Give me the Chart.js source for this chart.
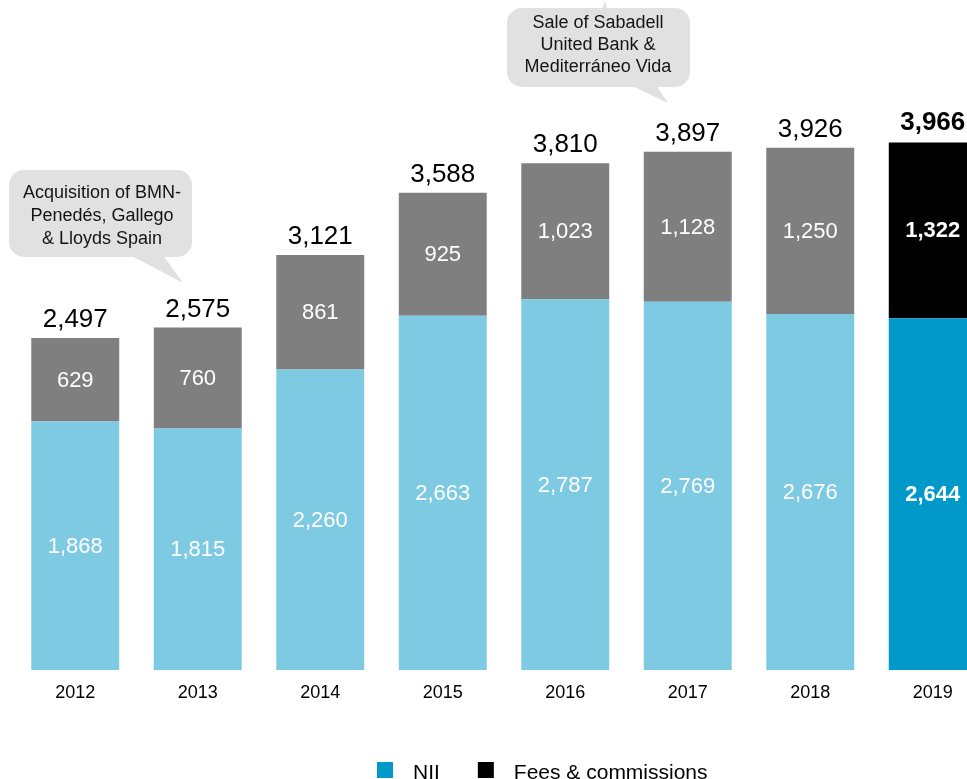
<!DOCTYPE html>
<html>
<head>
<meta charset="utf-8">
<script src="https://cdn.jsdelivr.net/npm/chart.js@4.4.1/dist/chart.umd.min.js"></script>
<style>
  html, body { margin: 0; padding: 0; background: #fff; overflow: hidden; }
  #wrap { width: 1000px; height: 779px; }
</style>
</head>
<body>
<div id="wrap"><canvas id="c" width="1000" height="779"></canvas></div>
<script>
// Revenue breakdown, EUR m
const years = ['2012', '2013', '2014', '2015', '2016', '2017', '2018', '2019'];
const nii = [1868, 1815, 2260, 2663, 2787, 2769, 2676, 2644];
const fees = [629, 760, 861, 925, 1023, 1128, 1250, 1322];
const seriesNames = ['NII', 'Fees & commissions'];
const highlightYear = '2019';
const noteAcquisition = ['Acquisition of BMN-', 'Penedés, Gallego', '& Lloyds Spain'];
const noteSale = ['Sale of Sabadell', 'United Bank &', 'Mediterráneo Vida'];

const FONT = '"Liberation Sans", Arial, Helvetica, sans-serif';
const niiColor = '#7fcae3', niiHighlight = '#0099c9';
const feeColor = '#7f7f7f', feeHighlight = '#000000';
const isHi = i => years[i] === highlightYear;
const fmt = v => v.toLocaleString('en-US');

// Values inside each segment plus stacked totals above the bars
const valueLabels = {
  id: 'valueLabels',
  afterDatasetsDraw(chart) {
    const ctx = chart.ctx;
    ctx.save();
    ctx.textAlign = 'center';
    chart.data.datasets.forEach((ds, di) => {
      const meta = chart.getDatasetMeta(di);
      meta.data.forEach((bar, i) => {
        const p = bar.getProps(['x', 'y', 'base'], true);
        ctx.fillStyle = '#ffffff';
        ctx.font = (isHi(i) ? 'bold ' : '') + '22px ' + FONT;
        ctx.textBaseline = 'middle';
        ctx.fillText(fmt(ds.data[i]), p.x, (p.y + p.base) / 2 + 1);
      });
    });
    const top = chart.getDatasetMeta(chart.data.datasets.length - 1);
    top.data.forEach((bar, i) => {
      const total = chart.data.datasets.reduce((s, ds) => s + ds.data[i], 0);
      ctx.fillStyle = '#000000';
      ctx.font = (isHi(i) ? 'bold ' : '') + '26px ' + FONT;
      ctx.textBaseline = 'alphabetic';
      ctx.fillText(fmt(total), bar.x, bar.y - (isHi(i) ? 13 : 11));
    });
    ctx.restore();
  }
};

// Speech-bubble notes
function bubble(ctx, b) {
  ctx.beginPath();
  ctx.roundRect(b.x0, b.y0, b.x1 - b.x0, b.y1 - b.y0, b.r);
  ctx.fill();
  ctx.beginPath();
  ctx.moveTo(b.tail[0][0], b.tail[0][1]);
  b.tail.slice(1).forEach(pt => ctx.lineTo(pt[0], pt[1]));
  ctx.closePath();
  ctx.fill();
  if (b.nub) {
    ctx.beginPath();
    ctx.moveTo(b.nub[0][0], b.nub[0][1]);
    b.nub.slice(1).forEach(pt => ctx.lineTo(pt[0], pt[1]));
    ctx.closePath();
    ctx.fill();
  }
}
const notes = {
  id: 'notes',
  afterDraw(chart, args, opts) {
    const ctx = chart.ctx;
    ctx.save();
    opts.items.forEach(n => {
      ctx.fillStyle = '#e1e1e1';
      bubble(ctx, n);
      ctx.fillStyle = '#141414';
      ctx.font = '18px ' + FONT;
      ctx.textAlign = 'center';
      ctx.textBaseline = 'alphabetic';
      n.lines.forEach((t, k) => ctx.fillText(t, n.tx, n.ty + k * n.lh));
    });
    ctx.restore();
  }
};

// Legend row along the bottom edge
const bottomLegend = {
  id: 'bottomLegend',
  afterDraw(chart, args, opts) {
    const ctx = chart.ctx;
    ctx.save();
    ctx.font = '21px ' + FONT;
    ctx.textBaseline = 'alphabetic';
    ctx.textAlign = 'left';
    let x = opts.x;
    chart.data.datasets.forEach(ds => {
      ctx.fillStyle = ds.legendColor;
      ctx.fillRect(x, opts.y, 16, 16);
      x += 16 + 20;
      ctx.fillStyle = '#000000';
      ctx.fillText(ds.label, x, opts.y + 17);
      x += ctx.measureText(ds.label).width + 38;
    });
    ctx.restore();
  }
};

new Chart(document.getElementById('c'), {
  type: 'bar',
  data: {
    labels: years,
    datasets: [
      {
        label: seriesNames[0],
        data: nii,
        backgroundColor: years.map((y, i) => isHi(i) ? niiHighlight : niiColor),
        legendColor: niiHighlight
      },
      {
        label: seriesNames[1],
        data: fees,
        backgroundColor: years.map((y, i) => isHi(i) ? feeHighlight : feeColor),
        legendColor: feeHighlight
      }
    ]
  },
  options: {
    responsive: false,
    animation: false,
    devicePixelRatio: 1,
    layout: { padding: { left: 14, right: 6, top: 5, bottom: 63.4 } },
    datasets: { bar: { categoryPercentage: 1, barPercentage: 0.718, borderWidth: 0 } },
    scales: {
      x: {
        stacked: true,
        grid: { display: false, drawTicks: false },
        border: { display: false },
        ticks: { color: '#000000', font: { family: FONT, size: 18 }, padding: 12 }
      },
      y: { stacked: true, display: false, min: 0, max: 5000 }
    },
    plugins: {
      legend: { display: false },
      tooltip: { enabled: false },
      notes: {
        items: [
          { x0: 9, y0: 170, x1: 192, y1: 257, r: 15,
            tail: [[130, 255], [163, 255], [183, 283]],
            lines: noteAcquisition, tx: 102, ty: 198, lh: 23 },
          { x0: 507, y0: 8, x1: 690, y1: 87, r: 15,
            tail: [[630, 85], [656, 85], [668, 103]],
            nub: [[602, 10], [607, 10], [605, 0]],
            lines: noteSale, tx: 598, ty: 28, lh: 22 }
        ]
      },
      bottomLegend: { x: 377, y: 762 }
    }
  },
  plugins: [valueLabels, notes, bottomLegend]
});
</script>
</body>
</html>
